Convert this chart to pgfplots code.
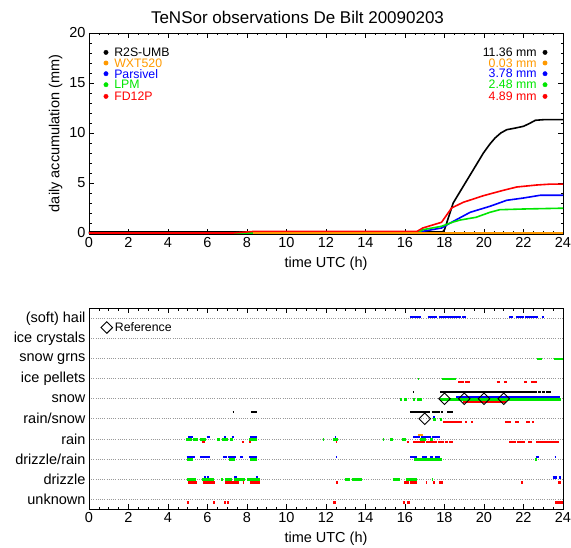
\documentclass[border=0pt]{standalone}
\usepackage{fontspec}
\setmainfont{Liberation Sans}
\usepackage{pgfplots}
\pgfplotsset{compat=1.18}
\definecolor{cor}{RGB}{255,153,0}
\definecolor{cbl}{RGB}{0,0,255}
\definecolor{cgr}{RGB}{0,230,0}
\definecolor{crd}{RGB}{255,0,0}
\newcommand{\lab}{\fontsize{14.5}{17}\selectfont}
\newcommand{\leg}{\fontsize{12.3}{14}\selectfont}
\tikzset{lg/.style={font=\leg, inner sep=0pt}}
\pgfplotsset{
  base/.style={
    scale only axis, width=474pt,
    xmin=0, xmax=24, xtick={0,2,...,24}, minor x tick num=3,
    tick align=inside, major tick length=5pt, minor tick length=2.5pt,
    tick style={black, line width=0.6pt},
    axis line style={line width=0.8pt},
    /pgf/number format/assume math mode=true,
    tick label style={font=\lab},
    label style={font=\lab},
    xlabel={time UTC (h)},
    xlabel style={yshift=-2pt},
    clip=true,
  },
  seg/.style={line width=2.4pt, unbounded coords=jump, no markers, line cap=butt},
}
\begin{document}
\begin{tikzpicture}
\path[use as bounding box] (0pt,0pt) rectangle (571pt,547pt);
\node[font=\fontsize{17}{20}\selectfont] at (297.5pt,530pt) {TeNSor observations De Bilt 20090203};
% ---------------- top axis
\begin{axis}[base, at={(89pt,313pt)}, anchor=south west, height=201pt,
  ymin=-0.1, ymax=20, ytick={0,5,...,20}, minor y tick num=4,
  ylabel={daily accumulation (mm)}]
\addplot[black, line width=1.6pt] coordinates {(0,0.1) (17.9,0.1) (18.0,0.33) (18.44,3.0) (18.95,4.67) (19.46,6.33) (19.97,8.0) (20.3,8.9) (20.56,9.5) (20.85,10.0) (21.15,10.33) (21.6,10.5) (22.0,10.67) (22.3,10.95) (22.6,11.27) (23.0,11.33) (24,11.34)};
\addplot[cbl, line width=1.6pt] coordinates {(0,0) (8.4,0) (8.45,0.08) (16.7,0.08) (16.9,0.17) (17.85,0.5) (18.2,0.9) (18.6,1.33) (19.3,2.07) (20.3,2.67) (20.7,2.95) (21.15,3.27) (22.0,3.5) (22.84,3.77) (24,3.78)};
\addplot[cgr, line width=1.6pt] coordinates {(0,0) (8.4,0) (8.45,0.08) (16.7,0.08) (16.9,0.33) (17.85,0.67) (18.44,1.1) (18.8,1.3) (19.6,1.57) (20.3,2.07) (20.8,2.33) (22,2.4) (24,2.48)};
\addplot[crd, line width=1.6pt] coordinates {(0,0) (7.3,0) (8.3,0.15) (16.6,0.15) (16.9,0.5) (17.85,1.07) (18.36,2.5) (18.95,3.07) (19.97,3.73) (20.98,4.27) (21.66,4.6) (22.67,4.8) (23.3,4.88) (24,4.89)};
\addplot[cor, line width=1.6pt] coordinates {(8.3,0.0) (24,0.0)};
% legend dots
\addplot[only marks, mark=*, mark size=2.2pt, black] coordinates {(0.86,18.06) (23.09,18.06)};
\addplot[only marks, mark=*, mark size=2.2pt, cor] coordinates {(0.86,17.0) (23.09,17.0)};
\addplot[only marks, mark=*, mark size=2.2pt, cbl] coordinates {(0.86,15.93) (23.09,15.93)};
\addplot[only marks, mark=*, mark size=2.2pt, cgr] coordinates {(0.86,14.83) (23.09,14.83)};
\addplot[only marks, mark=*, mark size=2.2pt, crd] coordinates {(0.86,13.66) (23.09,13.66)};
\node[anchor=west, lg, black] at (axis cs:1.27,18.06) {R2S-UMB};
\node[anchor=west, lg, cor] at (axis cs:1.27,17.0) {WXT520};
\node[anchor=west, lg, cbl] at (axis cs:1.27,15.93) {Parsivel};
\node[anchor=west, lg, cgr] at (axis cs:1.27,14.83) {LPM};
\node[anchor=west, lg, crd] at (axis cs:1.27,13.66) {FD12P};
\node[anchor=east, lg, black] at (axis cs:22.67,18.06) {11.36 mm};
\node[anchor=east, lg, cor] at (axis cs:22.67,17.0) {0.03 mm};
\node[anchor=east, lg, cbl] at (axis cs:22.67,15.93) {3.78 mm};
\node[anchor=east, lg, cgr] at (axis cs:22.67,14.83) {2.48 mm};
\node[anchor=east, lg, crd] at (axis cs:22.67,13.66) {4.89 mm};
\end{axis}
% ---------------- bottom axis
\begin{axis}[base, at={(89pt,38pt)}, anchor=south west, height=200.5pt,
  ymin=-0.5, ymax=9.5, ytick={0,...,9},
  yticklabels={unknown, drizzle, drizzle/rain, rain, rain/snow, snow, ice pellets, snow grns, ice crystals, (soft) hail},
  y tick style={draw=none},
  ymajorgrids, major grid style={gray!80, line width=0.6pt, dash pattern=on 1pt off 1.2pt}]
% black (R2S-UMB)
\addplot[seg, black, yshift=6.6pt] coordinates {
 (7.27,4) (7.35,4) (7.35,nan) (8.2,4) (8.5,4) (8.5,nan)
 (16.25,4) (17.27,4) (17.27,nan) (17.35,4) (17.77,4) (17.77,nan) (17.8,4) (17.94,4) (17.94,nan) (18.14,4) (18.41,4) (18.41,nan)
 (16.4,5) (16.48,5) (16.48,nan) (17.77,5) (22.7,5) (22.7,nan) (22.75,5) (22.9,5) (22.9,nan) (22.95,5) (23.1,5) (23.1,nan) (23.15,5) (23.4,5)};
% orange (WXT520)
\addplot[seg, cor, yshift=4pt] coordinates {(16.67,3) (16.9,3)};
% blue (Parsivel)
\addplot[seg, cbl, yshift=1.6pt] coordinates {
 (16.25,9) (16.8,9) (16.8,nan) (17.15,9) (17.6,9) (17.6,nan) (17.7,9) (18.85,9) (18.85,nan) (18.9,9) (19.1,9) (19.1,nan)
 (21.28,9) (21.49,9) (21.49,nan) (21.62,9) (22.0,9) (22.0,nan) (22.07,9) (22.75,9) (22.75,nan) (22.92,9) (23.05,9) (23.05,nan)
 (18.6,5) (23.85,5) (23.85,nan)
 (17.44,4) (17.5,4) (17.5,nan)
 (5.03,3) (5.28,3) (5.28,nan) (5.96,3) (6.13,3) (6.13,nan) (6.84,3) (6.94,3) (6.94,nan) (7.22,3) (7.34,3) (7.34,nan) (8.15,3) (8.52,3) (8.52,nan)
 (12.47,3) (12.53,3) (12.53,nan) (16.42,3) (16.75,3) (16.75,nan) (16.8,3) (17.3,3) (17.3,nan) (17.35,3) (17.77,3) (17.77,nan)
 (4.94,2) (5.37,2) (5.37,nan) (5.62,2) (6.15,2) (6.15,nan) (6.8,2) (7.0,2) (7.0,nan) (7.05,2) (7.44,2) (7.44,nan) (7.64,2) (7.81,2) (7.81,nan) (8.1,2) (8.52,2) (8.52,nan)
 (12.5,2) (12.56,2) (12.56,nan) (16.27,2) (16.62,2) (16.62,nan) (16.86,2) (17.1,2) (17.1,nan) (17.27,2) (17.44,2) (17.44,nan) (17.52,2) (17.77,2) (17.77,nan)
 (22.63,2) (22.8,2) (22.8,nan) (23.57,2) (23.63,2) (23.63,nan)
 (5.84,1) (5.92,1) (5.92,nan) (6.0,1) (6.1,1) (6.1,nan) (7.36,1) (7.48,1) (7.48,nan) (8.46,1) (8.54,1) (8.54,nan) (23.48,1) (23.71,1) (23.71,nan) (23.78,1) (23.88,1)};
% green (LPM)
\addplot[seg, cgr, yshift=-0.6pt] coordinates {
 (22.66,7) (22.92,7) (22.92,nan) (23.52,7) (24.0,7) (24.0,nan)
 (16.64,6) (16.7,6) (16.7,nan) (17.86,6) (18.6,6) (18.6,nan)
 (15.75,5) (15.85,5) (15.85,nan) (15.95,5) (16.09,5) (16.09,nan) (16.42,5) (16.5,5) (16.5,nan) (16.62,5) (16.84,5) (16.84,nan) (17.77,5) (23.88,5) (23.88,nan)
 (17.43,4) (17.56,4) (17.56,nan) (17.75,4) (17.86,4) (17.86,nan)
 (4.91,3) (5.2,3) (5.2,nan) (5.27,3) (5.5,3) (5.5,nan) (5.6,3) (5.92,3) (5.92,nan) (6.5,3) (6.63,3) (6.63,nan) (6.72,3) (7.05,3) (7.05,nan) (7.14,3) (7.31,3) (7.31,nan) (8.12,3) (8.52,3) (8.52,nan)
 (11.83,3) (11.9,3) (11.9,nan) (12.37,3) (12.62,3) (12.62,nan) (14.87,3) (14.93,3) (14.93,nan) (15.24,3) (15.41,3) (15.41,nan) (15.83,3) (16.05,3) (16.05,nan) (16.76,3) (17.06,3) (17.06,nan) (17.27,3) (17.4,3) (17.4,nan)
 (4.97,2) (5.25,2) (5.25,nan) (7.1,2) (7.39,2) (7.39,nan) (8.15,2) (8.52,2) (8.52,nan) (16.45,2) (17.86,2) (17.86,nan) (22.6,2) (22.66,2) (22.66,nan)
 (4.94,1) (5.42,1) (5.42,nan) (5.7,1) (6.33,1) (6.33,nan) (6.68,1) (6.77,1) (6.77,nan) (6.88,1) (7.22,1) (7.22,nan) (7.34,1) (7.9,1) (7.9,nan) (8.02,1) (8.66,1) (8.66,nan)
 (12.96,1) (13.21,1) (13.21,nan) (13.3,1) (13.8,1) (13.8,nan) (15.37,1) (15.75,1) (15.75,nan) (16.05,1) (16.62,1) (16.62,nan) (17.35,1) (17.44,1)};
% red (FD12P)
\addplot[seg, crd, yshift=-3.4pt] coordinates {
 (18.7,6) (19.0,6) (19.0,nan) (19.05,6) (19.29,6) (19.29,nan) (20.64,6) (20.8,6) (20.8,nan) (21.0,6) (21.15,6) (21.15,nan) (22.03,6) (22.2,6) (22.2,nan) (22.37,6) (22.67,6) (22.67,nan)
 (18.95,5) (21.12,5) (21.12,nan)
 (17.94,4) (18.87,4) (18.87,nan) (19.04,4) (19.15,4) (19.15,nan) (19.34,4) (19.43,4) (19.43,nan) (21.06,4) (21.35,4) (21.35,nan) (21.57,4) (21.79,4) (21.79,nan) (22.13,4) (22.33,4) (22.33,nan) (22.43,4) (22.53,4) (22.53,nan)
 (5.7,3) (5.86,3) (5.86,nan) (7.73,3) (7.85,3) (7.85,nan) (8.1,3) (8.22,3) (8.22,nan) (12.5,3) (12.58,3) (12.58,nan) (16.08,3) (16.22,3) (16.22,nan)
 (16.42,3) (17.0,3) (17.0,nan) (17.05,3) (17.6,3) (17.6,nan) (17.65,3) (18.0,3) (18.0,nan) (18.05,3) (18.19,3) (18.19,nan) (18.25,3) (18.45,3) (18.45,nan)
 (21.28,3) (21.6,3) (21.6,nan) (21.65,3) (22.07,3) (22.07,nan) (22.24,3) (22.41,3) (22.41,nan) (22.63,3) (23.81,3) (23.81,nan)
 (5.03,1) (5.48,1) (5.48,nan) (5.75,1) (6.38,1) (6.38,nan) (6.88,1) (7.61,1) (7.61,nan) (7.78,1) (7.85,1) (7.85,nan) (8.15,1) (8.66,1) (8.66,nan)
 (12.5,1) (12.62,1) (12.62,nan) (15.95,1) (16.2,1) (16.2,nan) (16.25,1) (16.62,1) (16.62,nan) (17.06,1) (17.13,1) (17.13,nan) (17.4,1) (17.52,1) (17.52,nan) (17.74,1) (17.9,1) (17.9,nan)
 (21.86,1) (21.96,1) (21.96,nan) (23.74,1) (23.88,1) (23.88,nan)
 (4.94,0) (5.04,0) (5.04,nan) (6.29,0) (6.4,0) (6.4,nan) (6.84,0) (6.94,0) (6.94,nan) (6.97,0) (7.07,0) (7.07,nan) (12.37,0) (12.5,0) (12.5,nan) (15.88,0) (16.0,0) (16.0,nan) (16.12,0) (16.25,0) (16.25,nan) (23.6,0) (23.98,0)};
% reference diamonds
\addplot[only marks, mark=square, mark size=4.1pt, mark options={rotate=45, black, line width=0.9pt}] coordinates {(17,4) (18,5) (19,5) (20,5) (21,5) (0.9,8.55)};
\node[anchor=west, lg] at (axis cs:1.3,8.55) {Reference};
\end{axis}
\end{tikzpicture}
\end{document}
